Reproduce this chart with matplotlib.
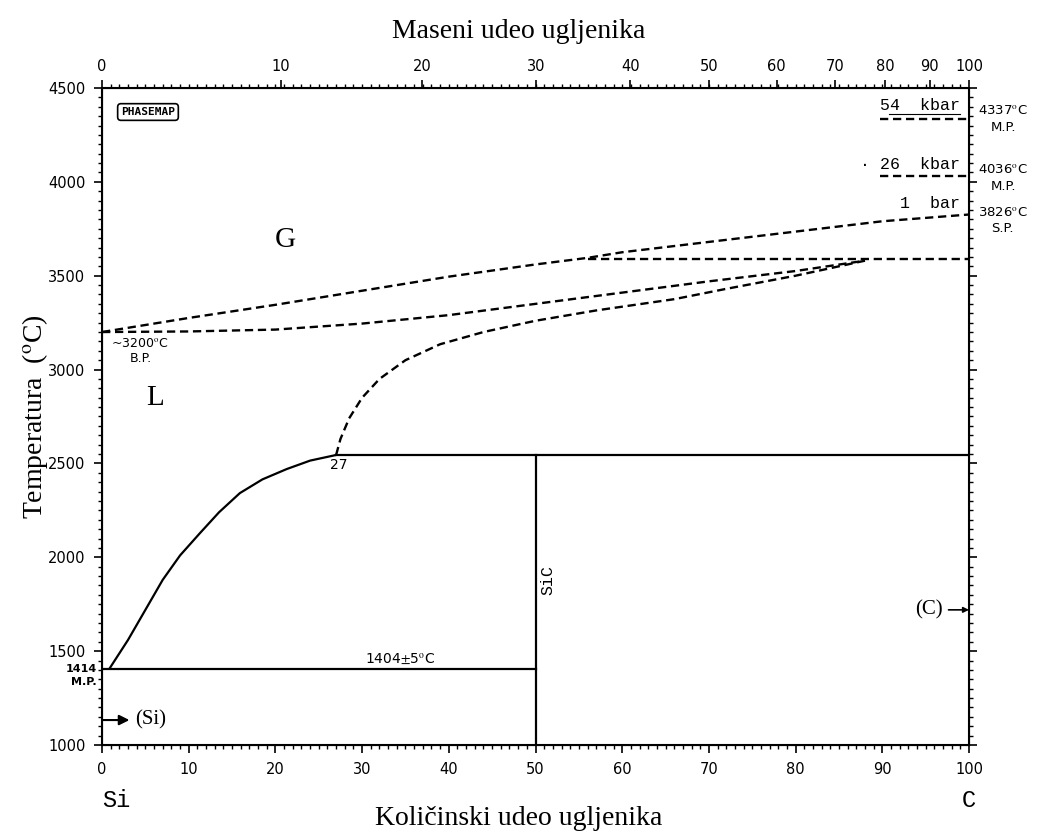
import numpy as np
import matplotlib.pyplot as plt
from matplotlib.ticker import MultipleLocator, FixedLocator

plt.rcParams['mathtext.fontset'] = 'stix'

# --- data (at.% C, deg C) ---
liq_x = [0.9, 3, 5, 7, 9, 11.3, 13.5, 15.9, 18.5, 21.3, 24, 27]
liq_T = [1410, 1560, 1720, 1880, 2010, 2129, 2240, 2342, 2415, 2470, 2515, 2545]

liq_hi_x = [27, 27.5, 28.5, 30, 32, 35, 39, 44, 50, 57, 66, 72, 80, 88]
liq_hi_T = [2545, 2630, 2740, 2850, 2950, 3050, 3135, 3200, 3260, 3315, 3375,
            3430, 3500, 3580]

bp_x = [0, 10, 20, 30, 40, 50, 60, 70, 80, 88]
bp_T = [3200, 3203, 3213, 3245, 3290, 3350, 3410, 3470, 3525, 3580]

gas_x = [0, 10, 20, 30, 40, 50, 56, 60, 70, 80, 90, 100]
gas_T = [3200, 3275, 3345, 3420, 3495, 3560, 3595, 3625, 3680, 3735, 3790, 3826]

peritectic_T = 2545
peritectic_x = 27
eutectic_T = 1404
sic_x = 50
horiz_3590_x = [56, 100]
horiz_3590_T = 3590
kbar54_T = 4337
kbar26_T = 4030
kbar_x = [89.7, 100]

wt_ticks = [0, 10, 20, 30, 40, 50, 60, 70, 80, 90, 100]


def wt_to_at(w):
    w = np.asarray(w, float)
    c = w / 12.011
    s = (100 - w) / 28.086
    return 100 * c / (c + s)


fig = plt.figure(figsize=(10.37, 8.34), dpi=100)
ax = fig.add_axes([0.0984, 0.1067, 0.836, 0.7878])

solid = dict(color='black', lw=1.6)
dash = dict(color='black', lw=1.7, linestyle=(0, (3.5, 2.0)))

ax.plot(liq_x, liq_T, **solid)
ax.plot([0, sic_x], [eutectic_T, eutectic_T], **solid)
ax.plot([sic_x, sic_x], [1000, peritectic_T], **solid)
ax.plot([peritectic_x, 100], [peritectic_T, peritectic_T], **solid)

ax.plot(liq_hi_x, liq_hi_T, **dash)
ax.plot(bp_x, bp_T, **dash)
ax.plot(gas_x, gas_T, **dash)
ax.plot(horiz_3590_x, [horiz_3590_T] * 2, **dash)
ax.plot(kbar_x, [kbar54_T] * 2, **dash)
ax.plot(kbar_x, [kbar26_T] * 2, **dash)

ax.set_xlim(0, 100)
ax.set_ylim(1000, 4500)

tickfont = dict(family='DejaVu Sans', size=10.5)
ax.xaxis.set_major_locator(MultipleLocator(10))
ax.xaxis.set_minor_locator(MultipleLocator(1))
ax.yaxis.set_major_locator(MultipleLocator(500))
ax.yaxis.set_minor_locator(MultipleLocator(50))
ax.tick_params(which='both', direction='out', top=False, right=True,
               labelright=False)
ax.tick_params(which='major', length=6, width=1.2, pad=6)
ax.tick_params(which='minor', length=3, width=1.0)
for lab in ax.get_xticklabels() + ax.get_yticklabels():
    lab.set_fontfamily('DejaVu Sans')
    lab.set_fontsize(10.5)
for sp in ax.spines.values():
    sp.set_linewidth(1.5)

# top axis: weight percent
top = ax.twiny()
top.set_xlim(0, 100)
top.xaxis.set_major_locator(FixedLocator(wt_to_at(wt_ticks)))
top.set_xticklabels([str(w) for w in wt_ticks], **tickfont)
top.xaxis.set_minor_locator(MultipleLocator(1))
top.tick_params(which='both', direction='out')
top.tick_params(which='major', length=6, width=1.2, pad=4)
top.tick_params(which='minor', length=3, width=1.0)

serif = 'Liberation Serif'
fig.text(0.5, 0.962, 'Maseni udeo ugljenika', ha='center', va='center',
         family=serif, fontsize=20)
fig.text(0.5, 0.018, 'Količinski udeo ugljenika', ha='center', va='center',
         family=serif, fontsize=20)
fig.text(0.034, 0.5, r'Temperatura  ($^{\rm o}$C)', ha='center', va='center',
         rotation=90, family=serif, fontsize=20)

mono = 'Liberation Mono'
ax.text(0, -0.085, 'Si', transform=ax.transAxes, ha='left', va='center',
        family=mono, fontsize=17)
ax.text(1.0, -0.085, 'C', transform=ax.transAxes, ha='center', va='center',
        family=mono, fontsize=17)

# phase labels
ax.text(21.1, 3690, 'G', family=serif, fontsize=21, ha='center', va='center')
ax.text(6.1, 2848, 'L', family=serif, fontsize=21, ha='center', va='center')
ax.text(sic_x + 0.6, 1880, 'SiC', rotation=90, ha='left', va='center',
        family=mono, fontsize=12)
ax.text(34.4, eutectic_T + 15, r'1404$\pm$5$^{\rm o}$C', ha='center',
        va='bottom', family='DejaVu Sans', fontsize=10)
ax.text(27.3, peritectic_T - 15, '27', ha='center', va='top',
        family='DejaVu Sans', fontsize=10)
ax.text(1.0, 3175, r'~3200$^{\rm o}$C', ha='left', va='top',
        family='DejaVu Sans', fontsize=9)
ax.text(4.5, 3060, 'B.P.', ha='center', va='center',
        family='DejaVu Sans', fontsize=9)
ax.text(-0.6, 1405, '1414', ha='right', va='center', family='DejaVu Sans',
        fontsize=8, weight='bold')
ax.text(-0.6, 1335, 'M.P.', ha='right', va='center', family='DejaVu Sans',
        fontsize=8, weight='bold')

ax.annotate('(Si)', xy=(0, 1133), xytext=(3.8, 1133), ha='left', va='center',
            family=serif, fontsize=15,
            arrowprops=dict(arrowstyle='<|-', color='black', lw=1.5,
                            shrinkA=2, shrinkB=0))
ax.annotate('(C)', xy=(100, 1720), xytext=(97, 1720), ha='right', va='center',
            family=serif, fontsize=15,
            arrowprops=dict(arrowstyle='-|>', color='black', lw=1.2,
                            shrinkA=2, shrinkB=0, mutation_scale=8))

ax.text(5.3, 4372, 'PHASEMAP', ha='center', va='center',
        family='DejaVu Sans Mono', weight='bold', fontsize=8,
        bbox=dict(boxstyle='round,pad=0.3', fc='white', ec='black', lw=1.2))

# pressure annotations on the right
ax.text(99, 4365, '54  kbar', ha='right', va='bottom', family=mono,
        fontsize=12)
ax.plot([90.8, 99], [4362, 4362], color='black', lw=0.8)
ax.text(99, 4055, '· 26  kbar', ha='right', va='bottom', family=mono,
        fontsize=12)
ax.text(99, 3845, '1  bar', ha='right', va='bottom', family=mono,
        fontsize=12)

rt = dict(transform=ax.get_yaxis_transform(), family='DejaVu Sans',
          fontsize=9.5, ha='left', va='center')
ax.text(1.01, 4380, r'4337$^{\rm o}$C', **rt)
ax.text(1.025, 4290, 'M.P.', **rt)
ax.text(1.01, 4065, r'4036$^{\rm o}$C', **rt)
ax.text(1.025, 3975, 'M.P.', **rt)
ax.text(1.01, 3835, r'3826$^{\rm o}$C', **rt)
ax.text(1.025, 3750, 'S.P.', **rt)

fig.savefig('out.png', dpi=100)
